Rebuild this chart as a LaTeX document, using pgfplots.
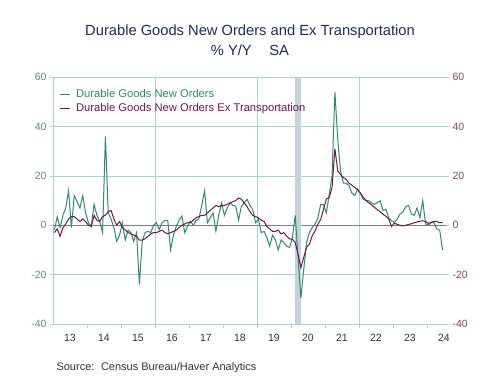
\documentclass[border=0pt]{standalone}
\usepackage{pgfplots}
\usepackage{pgfplotstable}
\pgfplotsset{compat=1.18}
\usepackage{fontspec}
\setmainfont{Liberation Sans}
\definecolor{dgc}{RGB}{44,140,108}
\definecolor{exc}{RGB}{110,22,80}
\definecolor{titlec}{RGB}{30,42,92}
\definecolor{gridc}{RGB}{165,212,218}
\definecolor{leftc}{RGB}{95,140,122}
\definecolor{rightc}{RGB}{125,70,105}
\definecolor{recc}{RGB}{195,210,222}
\definecolor{zeroc}{RGB}{125,125,125}
\pgfplotstableread{
year month dg ex
2013 1 -2 -3
2013 2 3.4 -1.5
2013 3 -1 -4.5
2013 4 4 -1
2013 5 7 0.5
2013 6 14 2.5
2013 7 -1 3.5
2013 8 12 3.5
2013 9 9.5 2.5
2013 10 7 1.5
2013 11 12 2.5
2013 12 5 1.5
2014 1 1 0
2014 2 -0.5 -0.5
2014 3 8.5 4
2014 4 4 2
2014 5 1.5 1.5
2014 6 -3 3.5
2014 7 36 4
2014 8 5 5.5
2014 9 2.5 6
2014 10 -1 2.5
2014 11 -6.5 0
2014 12 -4 1.5
2015 1 1 -1
2015 2 -6 -2
2015 3 -2 -3
2015 4 -3 -3.5
2015 5 -6.5 -4
2015 6 -3 -4.5
2015 7 -24 -6
2015 8 -6.5 -6
2015 9 -3 -5.5
2015 10 -2.5 -4.5
2015 11 -3 -3.5
2015 12 0 -3
2016 1 1 -3
2016 2 -1.8 -2.5
2016 3 1 -2
2016 4 2 -3
2016 5 2 -3.5
2016 6 -10 -3
2016 7 -4 -2.5
2016 8 -0.5 -2
2016 9 2 -1
2016 10 3.7 0
2016 11 -3 0.5
2016 12 -0.5 1
2017 1 1.6 1
2017 2 0 2
2017 3 2 3
2017 4 2.5 3.5
2017 5 8 4
2017 6 14 4
2017 7 1 5
2017 8 3 6
2017 9 5 7
2017 10 -2.4 8
2017 11 4 7.5
2017 12 9 8
2018 1 4 8
2018 2 7 8.5
2018 3 9 9
2018 4 8 9.5
2018 5 7.7 10
2018 6 2 11
2018 7 7.7 10.5
2018 8 9 9
2018 9 10.5 7.5
2018 10 8 5.5
2018 11 6.4 4
2018 12 1 3.5
2019 1 2.5 3
2019 2 -3 2
2019 3 -2.5 1.5
2019 4 -5 -0.5
2019 5 -8.5 -1.5
2019 6 -4 -2.5
2019 7 -6 -2.5
2019 8 -10 -2
2019 9 -6 -3.5
2019 10 -7 -3
2019 11 -8.5 -4.5
2019 12 -9 -5.5
2020 1 -5 -5.7
2020 2 4 -7
2020 3 -13 -11.8
2020 4 -29.5 -17.2
2020 5 -18 -13
2020 6 -7 -9
2020 7 -3 -7.7
2020 8 -1 -4.3
2020 9 0.4 -2.3
2020 10 3 0.4
2020 11 8.5 2.4
2020 12 8.3 6.5
2021 1 5 10.6
2021 2 12.5 11.2
2021 3 20 15.3
2021 4 54 31
2021 5 35 22
2021 6 22 20.5
2021 7 17 19.3
2021 8 17 18.5
2021 9 16 17
2021 10 13 16.2
2021 11 12 15.3
2021 12 14.5 14.5
2022 1 13 13
2022 2 10.5 11.3
2022 3 10 10
2022 4 9.9 9
2022 5 9 8.2
2022 6 8.5 7.2
2022 7 9.2 6.3
2022 8 9.9 5.4
2022 9 6 4.4
2022 10 6.5 3.6
2022 11 3 2.6
2022 12 1.8 -0.5
2023 1 1 0.8
2023 2 2.5 0.3
2023 3 4.5 0
2023 4 5.5 -0.3
2023 5 7.5 0
2023 6 8 0.3
2023 7 4.5 0.6
2023 8 4 1
2023 9 7 1.3
2023 10 3 1.6
2023 11 10 1.8
2023 12 0.5 1.5
2024 1 0 0.7
2024 2 1 1.2
2024 3 1 1.6
2024 4 -1.5 1.5
2024 5 -2 1.0
2024 6 -10 1.1
}\data
\begin{document}
\begin{tikzpicture}
\path[use as bounding box] (0pt,0pt) rectangle (500pt,375pt);
\node[font=\fontsize{14.7}{16}\selectfont, text=titlec] at (250pt,343pt) {Durable Goods New Orders and Ex Transportation};
\node[font=\fontsize{14.7}{16}\selectfont, text=titlec] at (250pt,325pt) {\% Y/Y\hspace{1.2em}SA};
\begin{axis}[
  at={(53pt,51pt)}, anchor=south west,
  width=393pt, height=247pt, scale only axis,
  xmin=2013, xmax=2024.56, ymin=-40, ymax=60,
  axis line style={draw=none},
  /pgf/number format/assume math mode=true,
  xtick={2013.5,2014.5,...,2024.5},
  xticklabels={13,14,15,16,17,18,19,20,21,22,23,24},
  major x tick style={draw=none},
  minor xtick={2014,2015,...,2024},
  minor x tick style={gridc, line width=0.6pt},
  minor tick length=4pt,
  xtick pos=bottom,
  tick align=outside,
  xticklabel style={font=\fontsize{10.5}{12}\selectfont, text=black!80, yshift=-4pt},
  extra x ticks={2013,2016,2019,2022},
  extra x tick labels={},
  extra x tick style={grid=major, major tick length=0pt},
  ytick={-40,-20,0,20,40,60},
  ymajorgrids,
  grid style={gridc, line width=0.6pt},
  ytick pos=left,
  major y tick style={gridc, line width=0.6pt},
  major tick length=3pt,
  yticklabel style={font=\fontsize{10.5}{12}\selectfont, text=leftc},
  extra y ticks={0},
  extra y tick labels={},
  extra y tick style={grid=major, grid style={zeroc, line width=0.6pt}, major tick length=0pt},
  legend style={at={(0.01,0.965)}, anchor=north west, draw=none, fill=none,
    font=\fontsize{11.2}{12}\selectfont, row sep=0pt, inner sep=2pt,
    /tikz/every odd column/.append style={column sep=4pt}},
  legend cell align=left,
  legend image code/.code={\draw[#1] (0pt,0pt) -- (10pt,0pt);},
]
\addplot[fill=recc, draw=none, forget plot] coordinates {(2020.13,-40) (2020.3,-40) (2020.3,60) (2020.13,60)} -- cycle;
\addplot[dgc, line width=1pt] table[x expr=\thisrow{year}+(\thisrow{month}-0.5)/12, y=dg] {\data};
\addlegendentry{\textcolor{dgc}{Durable Goods New Orders}}
\addplot[exc, line width=1pt] table[x expr=\thisrow{year}+(\thisrow{month}-0.5)/12, y=ex] {\data};
\addlegendentry{\textcolor{exc}{Durable Goods New Orders Ex Transportation}}
\end{axis}
\begin{axis}[
  at={(53pt,51pt)}, anchor=south west,
  width=393pt, height=247pt, scale only axis,
  xmin=2013, xmax=2024.56, ymin=-40, ymax=60,
  axis line style={draw=none},
  /pgf/number format/assume math mode=true,
  xtick=\empty,
  ytick={-40,-20,0,20,40,60},
  ytick pos=right,
  tick align=outside,
  major y tick style={gridc, line width=0.6pt},
  major tick length=3pt,
  yticklabel style={font=\fontsize{10.5}{12}\selectfont, text=rightc},
]
\end{axis}
\node[font=\fontsize{11}{13}\selectfont, text=black!80, anchor=west] at (53pt,7pt) {Source:\hspace{0.6em}Census Bureau/Haver Analytics};
\end{tikzpicture}
\end{document}
